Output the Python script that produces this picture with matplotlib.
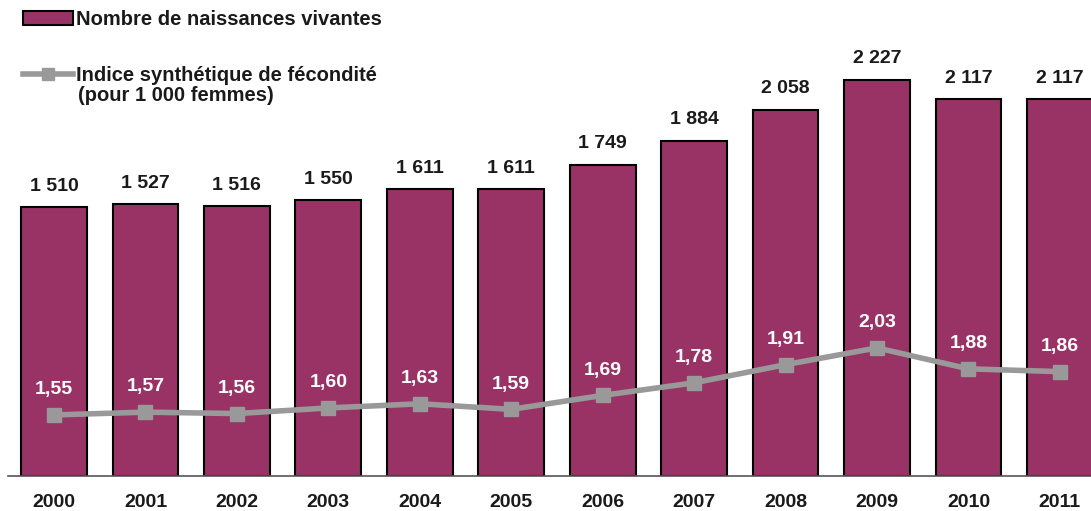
## Naissances vivantes et indice synthetique de fecondite, 2000-2011

import numpy as np
import matplotlib.pyplot as plt
from matplotlib.patches import Patch
from matplotlib.lines import Line2D

plt.rcParams['font.family'] = ['Liberation Sans', 'DejaVu Sans']
plt.rcParams['font.weight'] = 'bold'

years = ['2000', '2001', '2002', '2003', '2004', '2005',
         '2006', '2007', '2008', '2009', '2010', '2011']
naissances = [1510, 1527, 1516, 1550, 1611, 1611, 1749, 1884, 2058, 2227, 2117, 2117]
isf = [1.55, 1.57, 1.56, 1.60, 1.63, 1.59, 1.69, 1.78, 1.91, 2.03, 1.88, 1.86]

bar_color = '#993366'
line_color = '#999999'
text_color = '#1a1a1a'

def fmt_int(v):
    return '{:,}'.format(v).replace(',', ' ')

def fmt_dec(v):
    return ('%.2f' % v).replace('.', ',')

fig = plt.figure(figsize=(10.91, 5.11), dpi=100)
ax = fig.add_axes([8/1091, 35/511, 1083/1091, 476/511])

x = np.arange(len(years))
bars = ax.bar(x, naissances, 0.72, color=bar_color, edgecolor='black', linewidth=1.5, zorder=2)
ax.set_xlim(-0.503, 11.34)
ax.set_ylim(0, 2674)

# labels above bars
for rect, v in zip(bars, naissances):
    ax.text(rect.get_x() + rect.get_width()/2., rect.get_height() + 70, fmt_int(v),
            ha='center', va='bottom', fontsize=14, fontweight='bold', color=text_color)

for side in ['top', 'right', 'left']:
    ax.spines[side].set_visible(False)
ax.spines['bottom'].set_color('#555555')
ax.spines['bottom'].set_linewidth(1.2)
ax.set_yticks([])
ax.set_xticks(x)
ax.set_xticklabels(years, fontsize=14, fontweight='bold', color=text_color)
ax.tick_params(axis='x', length=0, pad=13)

# second axis for the fecondity index
ax2 = ax.twinx()
ax2.set_ylim(1.113, 4.52)
ax2.plot(x, isf, color=line_color, linewidth=4, marker='s', markersize=10, zorder=3)
for xi, v in zip(x, isf):
    ax2.text(xi, v + 0.12, fmt_dec(v), ha='center', va='bottom',
             fontsize=14, fontweight='bold', color='white')
ax2.axis('off')

handles = [Patch(facecolor=bar_color, edgecolor='black', linewidth=1.5),
           Line2D([], [], color=line_color, linewidth=4, marker='s', markersize=8)]
labels = ['Nombre de naissances vivantes', 'Indice synthétique de fécondité']
leg = fig.legend(handles, labels, loc='upper left', bbox_to_anchor=(23/1091, 1 - 10/511),
                 frameon=False, fontsize=14.5, handlelength=2.5, handleheight=0.75,
                 handletextpad=0.15, labelspacing=1.85, borderaxespad=0, borderpad=0)
for t in leg.get_texts():
    t.set_fontweight('bold')
    t.set_color(text_color)
fig.text(78/1091, 1 - 95/511, '(pour 1 000 femmes)', ha='left', va='center',
         fontsize=14.5, fontweight='bold', color=text_color)

fig.savefig('out.png', dpi=100)
